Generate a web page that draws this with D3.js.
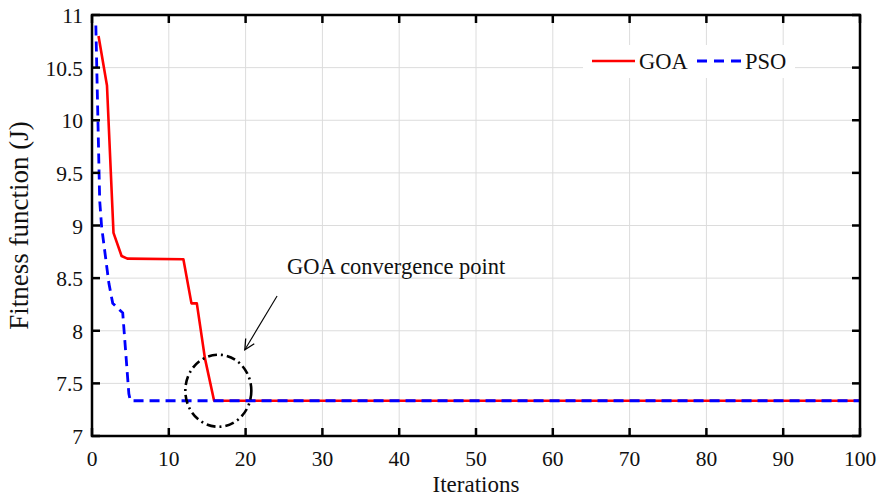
<!DOCTYPE html>
<html>
<head>
<meta charset="utf-8">
<script src="https://cdn.jsdelivr.net/npm/d3@7"></script>
<style>
  body { margin: 0; background: #fff; }
  text { font-family: "Liberation Serif", "Times New Roman", serif; fill: #111; }
</style>
</head>
<body>
<script>
// convergence curves
var goaIter = [0.85, 1.95, 2.8, 3.85, 4.6, 11.9, 12.95, 13.65, 14.7, 15.9, 100];
var goaFit  = [10.80, 10.33, 8.93, 8.71, 8.685, 8.68, 8.26, 8.26, 7.74, 7.335, 7.335];

var psoIter = [0.5, 1.0, 1.25, 2.2, 2.7, 4.0, 4.8, 5.0, 100];
var psoFit  = [10.9, 9.24, 8.99, 8.45, 8.26, 8.17, 7.40, 7.335, 7.335];

var xTicks = [0, 10, 20, 30, 40, 50, 60, 70, 80, 90, 100];
var yTicks = [7, 7.5, 8, 8.5, 9, 9.5, 10, 10.5, 11];

var seriesNames = ['GOA', 'PSO'];

var width = 879, height = 496;
var margin = { top: 15, right: 19, bottom: 60, left: 92 };

var svg = d3.select('body').append('svg')
    .attr('width', width)
    .attr('height', height);

var x = d3.scaleLinear().domain([0, 100]).range([margin.left, width - margin.right]);
var y = d3.scaleLinear().domain([7, 11]).range([height - margin.bottom, margin.top]);

// grid
svg.append('g').selectAll('line.vx')
    .data(xTicks).enter().append('line')
        .attr('x1', function(d) { return x(d) }).attr('x2', function(d) { return x(d) })
        .attr('y1', y(7)).attr('y2', y(11))
        .attr('stroke', '#dcdcdc').attr('stroke-width', 1);

svg.append('g').selectAll('line.hy')
    .data(yTicks).enter().append('line')
        .attr('y1', function(d) { return y(d) }).attr('y2', function(d) { return y(d) })
        .attr('x1', x(0)).attr('x2', x(100))
        .attr('stroke', '#dcdcdc').attr('stroke-width', 1);

var line = d3.line()
    .x(function(d) { return x(d[0]) })
    .y(function(d) { return y(d[1]) });

var goa = goaIter.map(function(d, i) { return [d, goaFit[i]] });
var pso = psoIter.map(function(d, i) { return [d, psoFit[i]] });

svg.append('path')
    .datum(goa)
    .attr('d', line)
    .attr('fill', 'none')
    .attr('stroke', '#ff0000')
    .attr('stroke-width', 2.6)
    .attr('stroke-linejoin', 'round');

svg.append('path')
    .datum(pso)
    .attr('d', line)
    .attr('fill', 'none')
    .attr('stroke', '#0000ff')
    .attr('stroke-width', 2.8)
    .attr('stroke-dasharray', '10,6');

// legend
var lg = svg.append('g');
lg.append('rect')
    .attr('x', 583).attr('y', 45).attr('width', 212).attr('height', 33)
    .attr('fill', '#fff');
lg.append('line')
    .attr('x1', 592).attr('x2', 635).attr('y1', 61).attr('y2', 61)
    .attr('stroke', '#ff0000').attr('stroke-width', 2.6);
lg.append('text')
    .attr('x', 639).attr('y', 69)
    .style('font-size', '22.5px')
    .text(seriesNames[0]);
lg.append('line')
    .attr('x1', 697).attr('x2', 742).attr('y1', 61).attr('y2', 61)
    .attr('stroke', '#0000ff').attr('stroke-width', 2.8)
    .attr('stroke-dasharray', '10,7');
lg.append('text')
    .attr('x', 745).attr('y', 69)
    .style('font-size', '22.5px')
    .text(seriesNames[1]);

// axes box
var x0 = x(0), x1 = x(100), y0 = y(7), y1 = y(11);

svg.append('g').selectAll('line.xt')
    .data(xTicks).enter().append('line')
        .attr('x1', function(d) { return x(d) }).attr('x2', function(d) { return x(d) })
        .attr('y1', y0).attr('y2', y0 - 8)
        .attr('stroke', '#000').attr('stroke-width', 2.5);
svg.append('g').selectAll('line.xt2')
    .data(xTicks).enter().append('line')
        .attr('x1', function(d) { return x(d) }).attr('x2', function(d) { return x(d) })
        .attr('y1', y1).attr('y2', y1 + 8)
        .attr('stroke', '#000').attr('stroke-width', 2.5);
svg.append('g').selectAll('line.yt')
    .data(yTicks).enter().append('line')
        .attr('y1', function(d) { return y(d) }).attr('y2', function(d) { return y(d) })
        .attr('x1', x0).attr('x2', x0 + 8)
        .attr('stroke', '#000').attr('stroke-width', 2.5);
svg.append('g').selectAll('line.yt2')
    .data(yTicks).enter().append('line')
        .attr('y1', function(d) { return y(d) }).attr('y2', function(d) { return y(d) })
        .attr('x1', x1).attr('x2', x1 - 8)
        .attr('stroke', '#000').attr('stroke-width', 2.5);

svg.append('rect')
    .attr('x', x0).attr('y', y1)
    .attr('width', x1 - x0).attr('height', y0 - y1)
    .attr('fill', 'none')
    .attr('stroke', '#000')
    .attr('stroke-width', 2.5);

// tick labels
svg.append('g').selectAll('text')
    .data(xTicks).enter().append('text')
        .attr('x', function(d) { return x(d) })
        .attr('y', 466)
        .attr('text-anchor', 'middle')
        .style('font-size', '21.5px')
        .text(function(d) { return d });

svg.append('g').selectAll('text')
    .data(yTicks).enter().append('text')
        .attr('x', 83)
        .attr('y', function(d) { return y(d) + 8 })
        .attr('text-anchor', 'end')
        .style('font-size', '21.5px')
        .text(function(d) { return d });

// axis titles
svg.append('text')
    .attr('x', (x0 + x1) / 2)
    .attr('y', 492)
    .attr('text-anchor', 'middle')
    .style('font-size', '23px')
    .text('Iterations');

svg.append('text')
    .attr('transform', 'translate(28,' + ((y0 + y1) / 2) + ') rotate(-90)')
    .attr('text-anchor', 'middle')
    .style('font-size', '27px')
    .text('Fitness function (J)');

// annotation: circle, arrow and label
svg.append('ellipse')
    .attr('cx', x(16.45)).attr('cy', y(7.43))
    .attr('rx', 33).attr('ry', 36)
    .attr('fill', 'none')
    .attr('stroke', '#000')
    .attr('stroke-width', 2.6)
    .attr('stroke-dasharray', '9,4,2,4');

var defs = svg.append('defs');
defs.append('marker')
    .attr('id', 'arr')
    .attr('viewBox', '0 0 12 12')
    .attr('refX', 11).attr('refY', 6)
    .attr('markerWidth', 12).attr('markerHeight', 12)
    .attr('markerUnits', 'userSpaceOnUse')
    .attr('orient', 'auto')
  .append('path')
    .attr('d', 'M1,1 L11,6 L1,11')
    .attr('fill', 'none')
    .attr('stroke', '#000')
    .attr('stroke-width', 1.3);

svg.append('line')
    .attr('x1', x(24.1)).attr('y1', y(8.33))
    .attr('x2', x(19.9)).attr('y2', y(7.82))
    .attr('stroke', '#000')
    .attr('stroke-width', 1.1)
    .attr('marker-end', 'url(#arr)');

svg.append('text')
    .attr('x', 287)
    .attr('y', 274)
    .style('font-size', '22.5px')
    .text('GOA convergence point');
</script>
</body>
</html>
